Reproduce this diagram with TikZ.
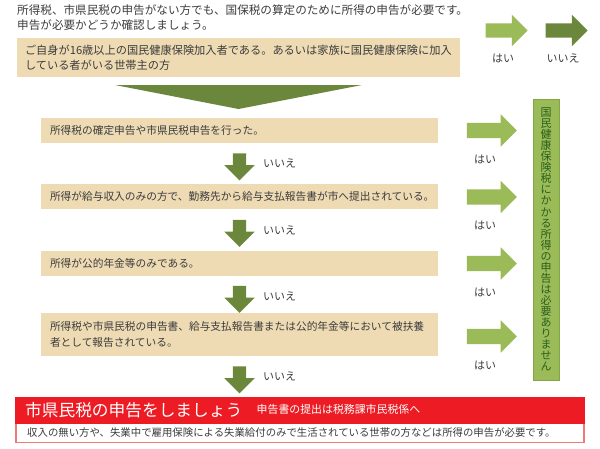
\documentclass[tikz,border=0pt]{standalone}
\usepackage{fontspec}
\setmainfont{Noto Sans CJK JP}
\usepackage{tikz}
\usetikzlibrary{shapes.arrows,positioning}
\definecolor{qtan}{RGB}{238,219,180}
\definecolor{yesgreen}{RGB}{155,187,89}
\definecolor{nogreen}{RGB}{107,135,60}
\definecolor{barline}{RGB}{130,165,70}
\definecolor{bartext}{RGB}{40,95,25}
\definecolor{callred}{RGB}{237,28,36}
\definecolor{noteline}{RGB}{240,120,120}
\definecolor{qtext}{RGB}{60,60,60}
\newcommand{\qsize}{\fontsize{10.7}{16}\selectfont}
\newcommand{\lblsize}{\fontsize{11}{11}\selectfont}
\tikzset{
  qbox/.style={rectangle, fill=qtan, align=left, inner xsep=9pt, inner ysep=0pt,
               text width=379pt, minimum height=25pt, font=\qsize, text=qtext},
  blockarr/.style={single arrow, draw=none, single arrow head indent=0pt,
                   minimum width=0pt, single arrow head extend=8.5pt},
  yesarr/.style={blockarr, fill=yesgreen, minimum height=50pt, inner sep=7.5pt},
  noarr/.style={blockarr, fill=nogreen, shape border rotate=270,
                minimum height=27pt, inner sep=6.5pt},
  lbl/.style={inner sep=0pt, font=\lblsize, text=qtext},
  barbox/.style={rectangle, fill=yesgreen, draw=barline, line width=0.8pt,
                 minimum width=26pt, minimum height=281pt, inner sep=0pt,
                 align=center, text=bartext, font=\fontsize{11}{11.05}\selectfont},
}

\begin{document}
\begin{tikzpicture}[x=1pt, y=-1pt]
    \useasboundingbox (0,0) rectangle (600,448);
    \node[anchor=west, inner sep=0pt, text=qtext, font=\fontsize{11.6}{15}\selectfont] (intro1) at (17,10)
        {所得税、市県民税の申告がない方でも、国保税の算定のために所得の申告が必要です。};
    \node[anchor=west, inner sep=0pt, text=qtext, font=\fontsize{11.6}{15}\selectfont] (intro2) at (17,25)
        {申告が必要かどうか確認しましょう。};
    \node[qbox, inner xsep=8pt, text width=427pt, minimum height=39pt,
          font=\fontsize{11.2}{15}\selectfont] (q0) at (238.5,57.5)
        {ご自身が16歳以上の国民健康保険加入者である。あるいは家族に国民健康保険に加入\\している者がいる世帯主の方};
    \fill[nogreen] (115,85) -- (362,85) -- (238.5,109) -- cycle;

    \node[yesarr, minimum height=42pt, inner sep=7pt] (legyes) at (503,30.5) {};
    \node[yesarr, fill=nogreen, minimum height=42pt, inner sep=7pt] (legno) at (563,30.5) {};
    \node[lbl, below=16pt of legyes] {はい};
    \node[lbl, below=16pt of legno] {いいえ};

    \node[qbox] (q1) at (239.5,130.5) {所得税の確定申告や市県民税申告を行った。};
    \node[qbox] (q2) at (239.5,196) {所得が給与収入のみの方で、勤務先から給与支払報告書が市へ提出されている。};
    \node[qbox] (q3) at (239.5,263.5) {所得が公的年金等のみである。};
    \node[qbox, minimum height=43pt] (q4) at (239.5,334.5)
        {所得税や市県民税の申告書、給与支払報告書または公的年金等において被扶養\\者として報告されている。};

    \node[noarr] (n1) at (239.5,163.5) {};
    \node[noarr] (n2) at (239.5,230) {};
    \node[noarr] (n3) at (239.5,296) {};
    \node[noarr] (n4) at (239.5,376.5) {};
    \foreach \n in {n1,n2,n3,n4}
      \node[lbl, right=16.5pt of \n] {いいえ};

    \node[yesarr] (y1) at (488,130.5) {};
    \node[yesarr] (y2) at (488,197) {};
    \node[yesarr] (y3) at (488,263.5) {};
    \node[yesarr] (y4) at (488,336.5) {};
    \foreach \y in {y1,y2,y3,y4}
      \node[lbl, below=16pt of \y, xshift=-3pt] {はい};

    \node[barbox] (noneed) at (546,239.5)
        {国\\民\\健\\康\\保\\険\\税\\に\\か\\か\\る\\所\\得\\の\\申\\告\\は\\必\\要\\あ\\り\\ま\\せ\\ん};

    \node[rectangle, fill=white, draw=noteline, line width=1.2pt, minimum width=568pt,
          minimum height=19pt, inner sep=0pt] (note) at (300,433) {};
    \node[rectangle, fill=callred, minimum width=570pt, minimum height=27pt,
          inner sep=0pt] (callhead) at (300,410.5) {};
    \node[anchor=west, inner sep=0pt, text=white, font=\fontsize{16.7}{17}\selectfont] (calltitle) at (25,410)
        {市県民税の申告をしましょう};
    \node[inner sep=0pt, text=white, font=\fontsize{10.9}{11}\selectfont, right=14pt of calltitle, yshift=1pt] (callsub)
        {申告書の提出は税務課市民税係へ};
    \node[anchor=west, inner sep=0pt, text=qtext, font=\fontsize{10.4}{11}\selectfont] (notetext) at (27,433)
        {収入の無い方や、失業中で雇用保険による失業給付のみで生活されている世帯の方などは所得の申告が必要です。};
  \end{tikzpicture}
\end{document}
